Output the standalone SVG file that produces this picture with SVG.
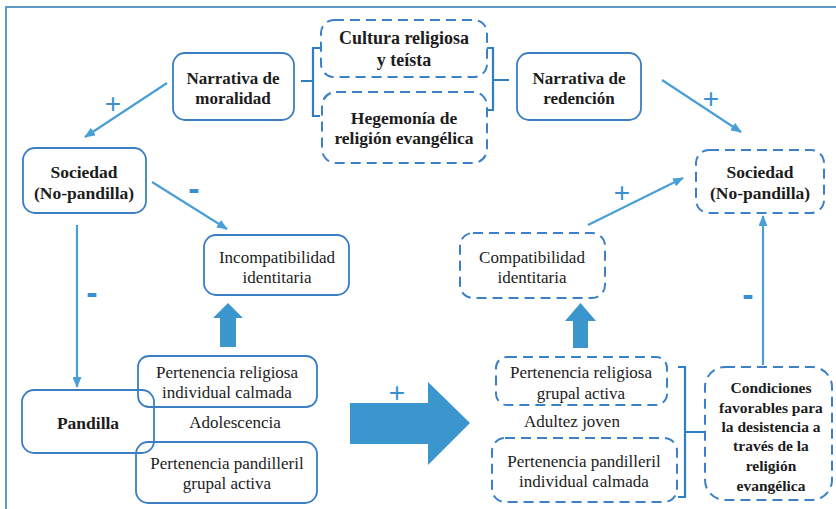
<svg xmlns="http://www.w3.org/2000/svg" width="836" height="509" viewBox="0 0 836 509">
<style>
.bg{fill:#ffffff}
.box{fill:none;stroke:#3b7ec3;stroke-width:1.8}
.dbox{fill:none;stroke:#3b80c8;stroke-width:2;stroke-dasharray:10 6}
.br{fill:none;stroke:#2f7dc3;stroke-width:2.2}
.ln{fill:none;stroke:#4a9fd6;stroke-width:2.2}
.blk{fill:#3b96cd}
.tb{font-family:'Liberation Serif',serif;font-weight:bold;font-size:17px;fill:#1c1c1c;text-anchor:middle}
.tn{font-family:'Liberation Serif',serif;font-size:17px;fill:#1c1c1c;text-anchor:middle}
.pl{font-family:'Liberation Sans',sans-serif;font-size:28px;fill:#3a8fd0;text-anchor:middle}
.mn{font-family:'Liberation Sans',sans-serif;font-weight:bold;font-size:34px;fill:#3a8fd0;text-anchor:middle}
</style>
<defs>
<marker id="ah" markerUnits="userSpaceOnUse" markerWidth="11" markerHeight="9" refX="10" refY="4.5" orient="auto">
<path d="M0,0 L11,4.5 L0,9 z" fill="#4a9fd6"/>
</marker>
</defs>
<rect class="bg" x="0" y="0" width="836" height="509"/>
<path d="M6,509 V7 H836" fill="none" stroke="#5b9bc4" stroke-width="2"/>

<g id="narrativa-moralidad">
<rect class="box" x="173" y="53" width="121" height="67" rx="12"/>
<text class="tb" x="233" y="84">Narrativa de</text>
<text class="tb" x="233" y="104">moralidad</text>
</g>
<g id="cultura">
<rect class="dbox" x="321" y="20" width="166" height="57" rx="13"/>
<text class="tb" x="404" y="44" style="font-size:18px">Cultura religiosa</text>
<text class="tb" x="404" y="66" style="font-size:18px">y teísta</text>
</g>
<g id="hegemonia">
<rect class="dbox" x="322" y="92" width="165" height="71" rx="14"/>
<text class="tb" x="404" y="124" style="font-size:17.5px">Hegemonía de</text>
<text class="tb" x="404" y="144" style="font-size:17.5px">religión evangélica</text>
</g>
<g id="narrativa-redencion">
<rect class="box" x="517" y="53" width="124" height="67" rx="12"/>
<text class="tb" x="579" y="84">Narrativa de</text>
<text class="tb" x="579" y="104">redención</text>
</g>
<g id="sociedad-izq">
<rect class="box" x="23" y="148" width="123" height="65" rx="12"/>
<text class="tb" x="84" y="178" style="font-size:17.5px">Sociedad</text>
<text class="tb" x="84" y="199" style="font-size:17.5px">(No-pandilla)</text>
</g>
<g id="sociedad-der">
<rect class="dbox" x="696" y="150" width="128" height="63" rx="13"/>
<text class="tb" x="760" y="178" style="font-size:17.5px">Sociedad</text>
<text class="tb" x="760" y="199" style="font-size:17.5px">(No-pandilla)</text>
</g>
<g id="incompatibilidad">
<rect class="box" x="204" y="235" width="145" height="60" rx="12"/>
<text class="tn" x="277" y="263">Incompatibilidad</text>
<text class="tn" x="277" y="283">identitaria</text>
</g>
<g id="compatibilidad">
<rect class="dbox" x="460" y="233" width="145" height="65" rx="13"/>
<text class="tn" x="532" y="263">Compatibilidad</text>
<text class="tn" x="532" y="283">identitaria</text>
</g>
<g id="pandilla">
<rect class="box" x="22" y="390" width="132" height="63" rx="12"/>
<text class="tb" x="88" y="429" style="font-size:17.5px">Pandilla</text>
</g>
<g id="pert-religiosa-individual">
<rect class="box" x="138" y="356" width="179" height="51" rx="11"/>
<text class="tn" x="227" y="378">Pertenencia religiosa</text>
<text class="tn" x="227" y="398">individual calmada</text>
</g>
<g id="adolescencia">
<text class="tn" x="235" y="428">Adolescencia</text>
</g>
<g id="pert-pandilleril-grupal">
<rect class="box" x="136" y="442" width="181" height="61" rx="12"/>
<text class="tn" x="227" y="469">Pertenencia pandilleril</text>
<text class="tn" x="227" y="489">grupal activa</text>
</g>
<g id="pert-religiosa-grupal">
<rect class="dbox" x="496" y="357" width="171" height="48" rx="11"/>
<text class="tn" x="581" y="378">Pertenencia religiosa</text>
<text class="tn" x="581" y="399">grupal activa</text>
</g>
<g id="adultez">
<text class="tn" x="572" y="427">Adultez joven</text>
</g>
<g id="pert-pandilleril-individual">
<rect class="dbox" x="492" y="438" width="185" height="64" rx="13"/>
<text class="tn" x="584" y="467">Pertenencia pandilleril</text>
<text class="tn" x="584" y="487">individual calmada</text>
</g>
<g id="condiciones">
<rect class="dbox" x="705" y="367" width="127" height="133" rx="20"/>
<text class="tb" x="771" y="393" style="font-size:15.5px">Condiciones</text>
<text class="tb" x="771" y="413" style="font-size:15.5px">favorables para</text>
<text class="tb" x="771" y="432" style="font-size:15.5px">la desistencia a</text>
<text class="tb" x="771" y="451" style="font-size:15.5px">través de la</text>
<text class="tb" x="771" y="471" style="font-size:15.5px">religión</text>
<text class="tb" x="771" y="491" style="font-size:15.5px">evangélica</text>
</g>

<g id="connectors">
<path class="br" d="M301,81 H313 M320,48 H313 V116 H320"/>
<path class="br" d="M487,48 H493 V110 H487 M493,80 H509"/>
<path class="br" d="M678,367 H685 V497 H678 M685,432 H705"/>
<line class="ln" x1="167" y1="83" x2="85" y2="137" marker-end="url(#ah)"/>
<line class="ln" x1="152" y1="182" x2="227" y2="229" marker-end="url(#ah)"/>
<line class="ln" x1="77" y1="225" x2="77" y2="387" marker-end="url(#ah)"/>
<line class="ln" x1="662" y1="80" x2="741" y2="132" marker-end="url(#ah)"/>
<line class="ln" x1="588" y1="225" x2="683" y2="178" marker-end="url(#ah)"/>
<line class="ln" x1="763" y1="365" x2="763" y2="216" marker-end="url(#ah)"/>
<polygon class="blk" points="220,347 236,347 236,318 243,318 228,303 213,318 220,318"/>
<polygon class="blk" points="573,348 588,348 588,321 596,321 580.5,303 565,321 573,321"/>
<polygon class="blk" points="350,403 428,403 428,382 470,423 428,465 428,444 350,444"/>
<text class="pl" x="113" y="113">+</text>
<text class="pl" x="711" y="108">+</text>
<text class="pl" x="622" y="202">+</text>
<text class="pl" x="397" y="402">+</text>
<text class="mn" x="194" y="200">-</text>
<text class="mn" x="92" y="304">-</text>
<text class="mn" x="748" y="306">-</text>
</g>
</svg>
